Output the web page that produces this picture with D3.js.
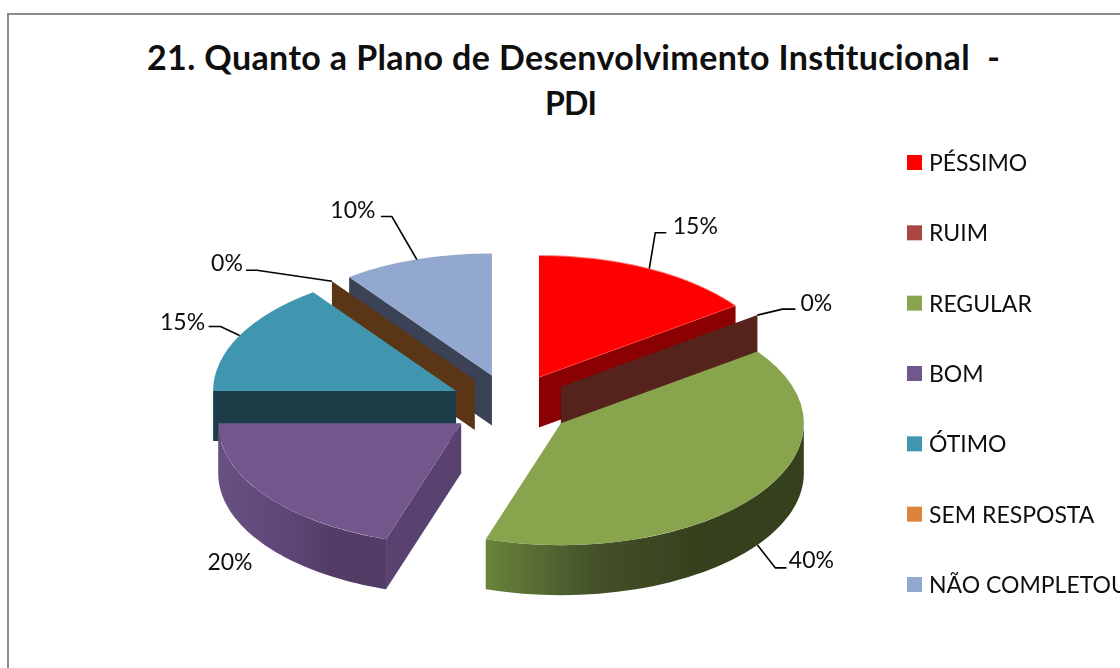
<!DOCTYPE html>
<html><head><meta charset="utf-8">
<script src="https://cdn.jsdelivr.net/npm/d3@7"></script>
<style>html,body{margin:0;padding:0;background:#fff;overflow:hidden}svg{display:block}text{font-family:Lato,"Open Sans",sans-serif;fill:#0f0f0f}</style>
</head><body><svg id="c" width="1120" height="668"></svg>
<script>
const categories=["PÉSSIMO","RUIM","REGULAR","BOM","ÓTIMO","SEM RESPOSTA","NÃO COMPLETOU"];
const values=[15,0,40,20,15,0,10];
const titleLines=["21. Quanto a Plano de Desenvolvimento Institucional  -","PDI"];
const titleWidths=[853,52];
const titleSizes=[34,32];
const titleCentres=[573.5,571];
const topColors=["#ff0000","#a94644","#88a44e","#72578c","#4096af","#dd843c","#92a8ce"];
const cutColors=["#8b0000","#55241f","#3e4c22","#5a4270","#1b3d47","#5a3417","#3b4256"];
const wallStops=[[],[],["#69843a","#44522a","#35411d","#35411d"],["#6a5183","#60497a","#523e67","#503c64"],["#1b3d47","#1b3d47"],[],[]];
const labelOffsets=[[46,-43],[59,-12],[54,15],[0,0],[-57,-14],[-105,-18],[-64,-50]];
const elbowOffsets=[[6,-36],[25,-6],[18,23],null,[-19,-9],[-75,-11],[-25,-43]];
const runOffsets=[[17,-36],[38,-6],[29,23],null,[-31,-9],[-86,-11],[-36,-43]];

const W=1120,H=668,cx=511,cy=405,rx=243,ry=122,depth=50,explode=61.6;
const svg=d3.select("#c");
svg.append("rect").attr("x",8).attr("y",14).attr("width",W+20).attr("height",H+20).attr("fill","#fff").attr("stroke","#8c8c8c").attr("stroke-width",2);
titleLines.forEach((t,i)=>svg.append("text").attr("x",titleCentres[i]).attr("y",70+i*45).attr("text-anchor","middle").attr("font-weight",700).attr("font-size",titleSizes[i]).attr("textLength",titleWidths[i]).attr("lengthAdjust","spacing").style("white-space","pre").text(t));

const pie=d3.pie().sort(null).startAngle(0).endAngle(2*Math.PI);
const arcs=pie(values).map((d,i)=>{const m=(d.startAngle+d.endAngle)/2;
  return {...d,i,ax:cx+explode*Math.sin(m),ay:cy-explode*ry/rx*Math.cos(m)};});
const P=(a,t,dy=0)=>[a.ax+rx*Math.sin(t),a.ay-ry*Math.cos(t)+dy];
const arcGen=d3.arc().innerRadius(0).outerRadius(1);
const defs=svg.append("defs");
defs.append("filter").attr("id","soft").attr("x","-5%").attr("y","-5%").attr("width","110%").attr("height","110%").append("feGaussianBlur").attr("stdDeviation",0.45);
const pieG=svg.append("g").attr("filter","url(#soft)");
const poly=pts=>"M"+pts.map(p=>p.join(",")).join("L")+"Z";
function cut(g,a,t){const p=P(a,t);g.append("path").attr("d",poly([[a.ax,a.ay],p,[p[0],p[1]+depth],[a.ax,a.ay+depth]])).attr("fill",cutColors[a.i]);}
function wall(g,a,t0,t1){
  const n=48,ts=d3.range(n+1).map(k=>t0+(t1-t0)*k/n);
  const pts=ts.map(t=>P(a,t)).concat(ts.slice().reverse().map(t=>P(a,t,depth)));
  const id="w"+a.i,xs=pts.map(p=>p[0]);
  const lg=defs.append("linearGradient").attr("id",id).attr("gradientUnits","userSpaceOnUse").attr("x1",d3.min(xs)).attr("x2",d3.max(xs)).attr("y1",0).attr("y2",0);
  const st=wallStops[a.i];
  st.forEach((c,k)=>lg.append("stop").attr("offset",k/(st.length-1)).attr("stop-color",c));
  g.append("path").attr("d",poly(pts)).attr("fill",`url(#${id})`);
}
function face(g,a){g.append("path").attr("d",arcGen({startAngle:a.startAngle,endAngle:a.endAngle})).attr("transform",`translate(${a.ax},${a.ay}) scale(${rx},${ry})`).attr("fill",topColors[a.i]);}
const [red,ruim,green,purple,teal,sem,nc]=arcs;
cut(pieG,nc,nc.startAngle); face(pieG,nc);
cut(pieG,sem,sem.startAngle);
cut(pieG,red,red.endAngle); face(pieG,red);
cut(pieG,ruim,ruim.startAngle);
cut(pieG,teal,teal.startAngle); face(pieG,teal);
wall(pieG,purple,purple.startAngle,purple.endAngle);
cut(pieG,purple,purple.startAngle); face(pieG,purple);
wall(pieG,green,Math.PI/2,green.endAngle);
face(pieG,green);

const fmt=d3.format(".0%"),total=d3.sum(values);
arcs.forEach((a,i)=>{const m=(a.startAngle+a.endAngle)/2,p=P(a,m,i===2?depth:0);
  if(elbowOffsets[i]){svg.append("path").attr("fill","none").attr("stroke","#000").attr("stroke-width",1.6)
    .attr("d",d3.line()([p,[p[0]+elbowOffsets[i][0],p[1]+elbowOffsets[i][1]],[p[0]+runOffsets[i][0],p[1]+runOffsets[i][1]]]));}
  const lab=i===3?[230,570]:[p[0]+labelOffsets[i][0],p[1]+labelOffsets[i][1]+8];
  svg.append("text").attr("x",lab[0]).attr("y",lab[1]).attr("text-anchor","middle").attr("font-size",23).text(fmt(values[i]/total));
});
const ly=d3.scalePoint().domain(categories).range([162.5,584.5]);
categories.forEach((c,i)=>{
  svg.append("rect").attr("x",907).attr("y",ly(c)-7.5).attr("width",15).attr("height",15).attr("fill",topColors[i]);
  svg.append("text").attr("x",929).attr("y",ly(c)+8.5).attr("font-size",23).text(c);
});
</script></body></html>
